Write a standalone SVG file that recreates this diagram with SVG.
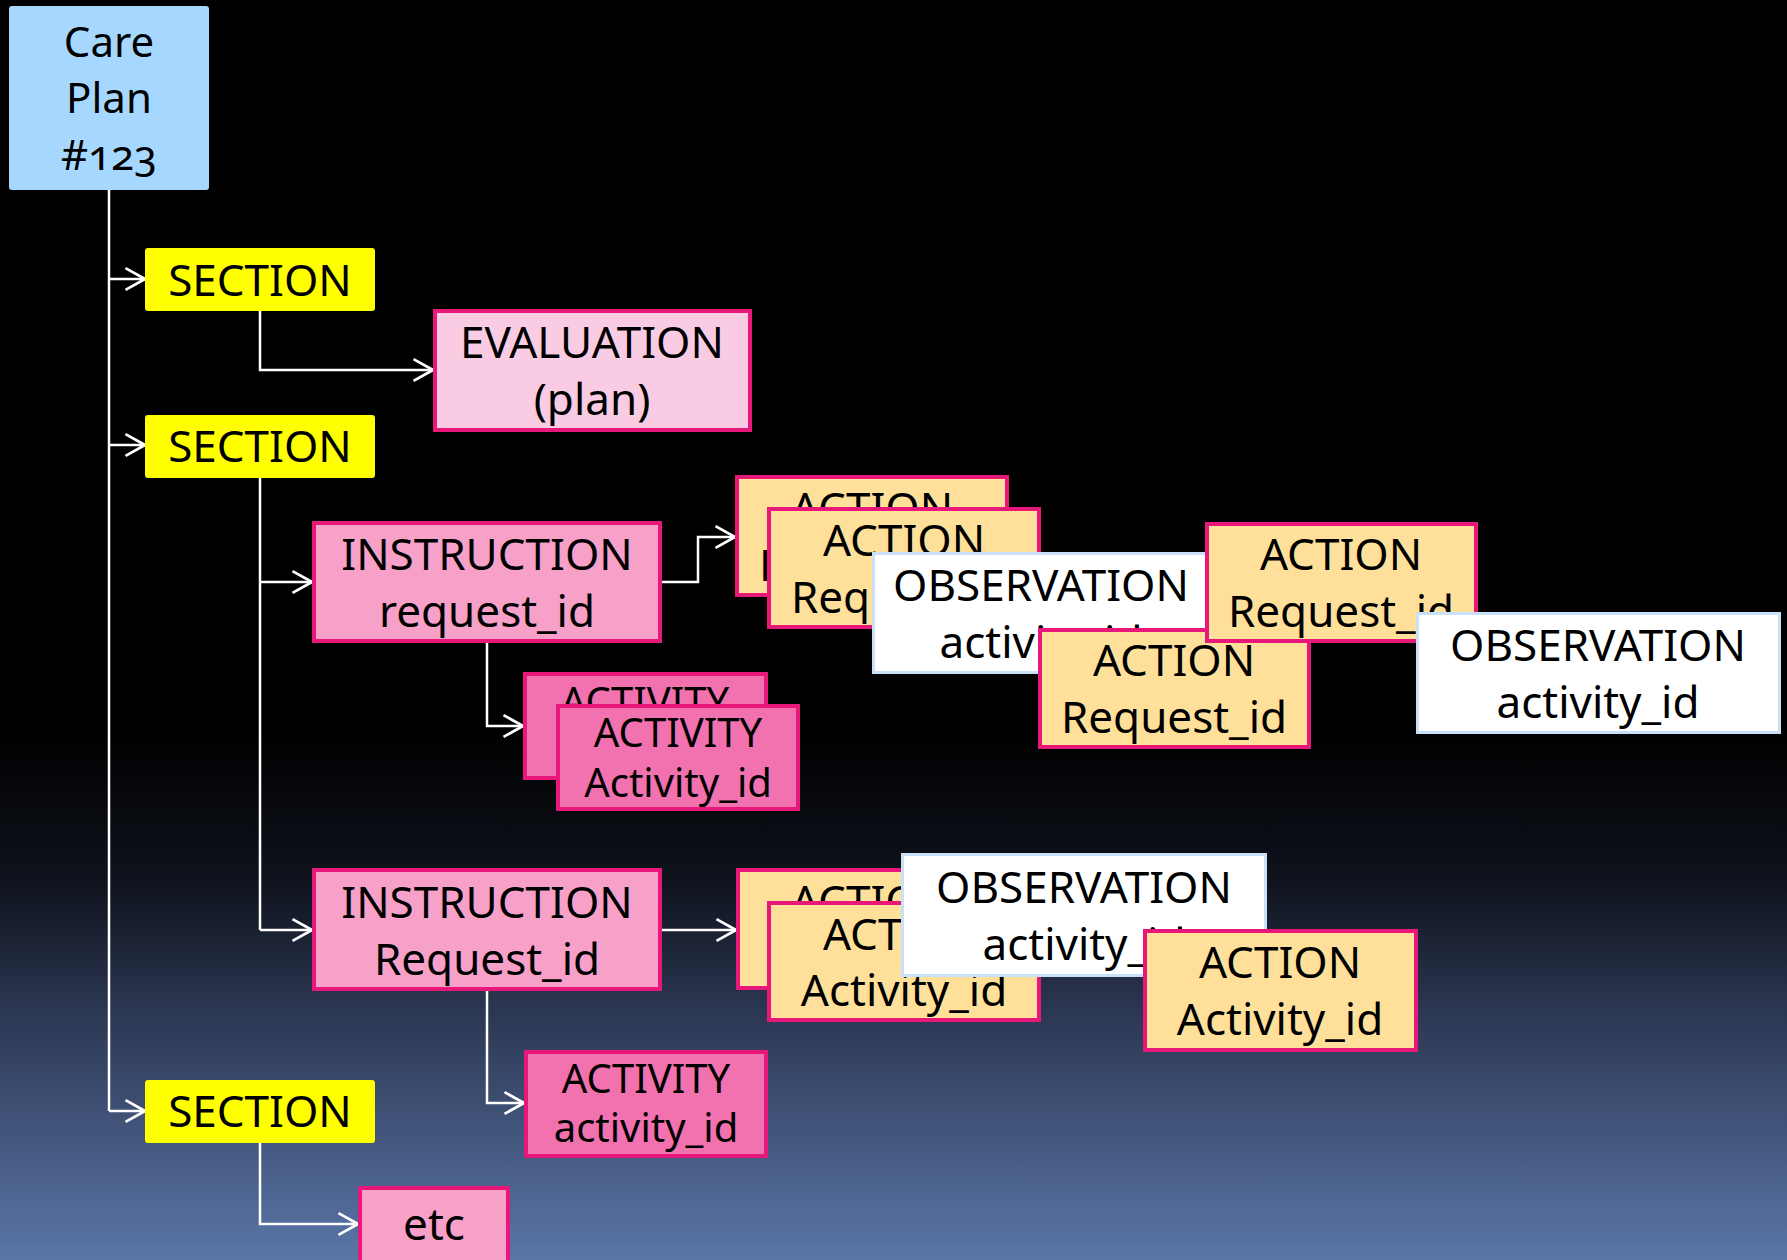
<svg xmlns="http://www.w3.org/2000/svg" width="1787" height="1260" viewBox="0 0 1787 1260">
  <defs>
    <linearGradient id="bg" x1="0" y1="0" x2="0" y2="1">
      <stop offset="0" stop-color="#000000"/>
      <stop offset="0.58" stop-color="#000000"/>
      <stop offset="0.7" stop-color="#0f131d"/>
      <stop offset="0.8" stop-color="#2b3651"/>
      <stop offset="1" stop-color="#5a76a8"/>
    </linearGradient>
    <marker id="arrow" markerUnits="userSpaceOnUse" markerWidth="24" markerHeight="26" viewBox="-20 -12 22 24" refX="0" refY="0" orient="auto">
      <path d="M-18,-10 L0,0 L-18,10" fill="none" stroke="#ffffff" stroke-width="2.5"/>
    </marker>
  </defs>
  <style>
    text { font-family: "Noto Sans", "Open Sans", sans-serif; font-size: 44px; fill: #000; text-anchor: middle; }
    .small { font-size: 40px; }
    .tight { letter-spacing: -1.5px; }
    .plan { fill: #a6d8ff; }
    .section { fill: #ffff00; }
    .pink { stroke: #e8177a; stroke-width: 4; }
    .eval { fill: #facce4; }
    .instr { fill: #f7a1c9; }
    .activity { fill: #f271af; }
    .action { fill: #ffe09a; }
    .obs { fill: #ffffff; stroke: #c8e0f8; stroke-width: 3; }
    .conn { fill: none; stroke: #ffffff; stroke-width: 2.5; }
  </style>

  <rect width="1787" height="1260" fill="url(#bg)"/>

  <!-- connectors -->
  <g id="connectors" class="conn">
    <path d="M109,190 V1111"/>
    <path d="M109,279 H145" marker-end="url(#arrow)"/>
    <path d="M109,445 H145" marker-end="url(#arrow)"/>
    <path d="M109,1111 H145" marker-end="url(#arrow)"/>
    <path d="M260,311 V370 H433" marker-end="url(#arrow)"/>
    <path d="M260,478 V930"/>
    <path d="M260,582 H312" marker-end="url(#arrow)"/>
    <path d="M260,930 H312" marker-end="url(#arrow)"/>
    <path d="M662,582 H698 V537 H735" marker-end="url(#arrow)"/>
    <path d="M487,643 V726 H523" marker-end="url(#arrow)"/>
    <path d="M662,930 H736" marker-end="url(#arrow)"/>
    <path d="M487,991 V1103 H524" marker-end="url(#arrow)"/>
    <path d="M260,1143 V1224 H358" marker-end="url(#arrow)"/>
  </g>

  <g id="care-plan">
    <rect class="plan" x="9" y="6" width="200" height="184" rx="3"/>
    <text x="109" y="57" style="font-size:42px">Care</text>
    <text x="109" y="113" style="font-size:42px">Plan</text>
    <text x="109" y="170" style="font-size:42px;font-variant-numeric:oldstyle-nums">#123</text>
  </g>

  <g id="section-1">
    <rect class="section" x="145" y="248" width="230" height="63" rx="3"/>
    <text x="260" y="296">SECTION</text>
  </g>
  <g id="section-2">
    <rect class="section" x="145" y="415" width="230" height="63" rx="3"/>
    <text x="260" y="462">SECTION</text>
  </g>
  <g id="section-3">
    <rect class="section" x="145" y="1080" width="230" height="63" rx="3"/>
    <text x="260" y="1127">SECTION</text>
  </g>

  <g id="evaluation">
    <rect class="eval pink" x="435" y="311" width="315" height="119"/>
    <text x="592" y="358">EVALUATION</text>
    <text x="592" y="415">(plan)</text>
  </g>

  <g id="instruction-1">
    <rect class="instr pink" x="314" y="523" width="346" height="118"/>
    <text x="487" y="570">INSTRUCTION</text>
    <text x="487" y="627">request_id</text>
  </g>
  <g id="instruction-2">
    <rect class="instr pink" x="314" y="870" width="346" height="119"/>
    <text x="487" y="918">INSTRUCTION</text>
    <text x="487" y="975">Request_id</text>
  </g>

  <g id="activity-1a">
    <rect class="activity pink" x="525" y="674" width="241" height="104"/>
    <text class="small" x="645" y="716">ACTIVITY</text>
    <text class="small tight" x="648" y="766">Activity_id</text>
  </g>
  <g id="activity-1b">
    <rect class="activity pink" x="558" y="706" width="240" height="103"/>
    <text class="small" x="678" y="747">ACTIVITY</text>
    <text class="small" x="678" y="797">Activity_id</text>
  </g>
  <g id="activity-2">
    <rect class="activity pink" x="526" y="1052" width="240" height="104"/>
    <text class="small" x="646" y="1093">ACTIVITY</text>
    <text class="small" x="646" y="1142">activity_id</text>
  </g>

  <g id="etc">
    <rect class="instr pink" x="360" y="1188" width="148" height="80"/>
    <text x="434" y="1240">etc</text>
  </g>

  <!-- first action/observation cluster -->
  <g id="action-1a">
    <rect class="action pink" x="737" y="477" width="270" height="118"/>
    <text x="872" y="524">ACTION</text>
    <text x="872" y="581">Request_id</text>
  </g>
  <g id="action-1b">
    <rect class="action pink" x="769" y="509" width="270" height="118"/>
    <text x="904" y="556">ACTION</text>
    <text x="904" y="613">Request_id</text>
  </g>
  <g id="observation-1">
    <rect class="obs" x="873.5" y="553.5" width="336" height="119"/>
    <text x="1041" y="601">OBSERVATION</text>
    <text x="1041" y="658">activity_id</text>
  </g>
  <g id="action-1c">
    <rect class="action pink" x="1040" y="630" width="269" height="117"/>
    <text x="1174" y="676">ACTION</text>
    <text x="1174" y="733">Request_id</text>
  </g>
  <g id="action-1d">
    <rect class="action pink" x="1207" y="524" width="269" height="117"/>
    <text x="1341" y="570">ACTION</text>
    <text x="1341" y="627">Request_id</text>
  </g>
  <g id="observation-2">
    <rect class="obs" x="1417.5" y="613.5" width="362" height="119"/>
    <text x="1598" y="661">OBSERVATION</text>
    <text x="1598" y="718">activity_id</text>
  </g>

  <!-- second action/observation cluster -->
  <g id="action-2a">
    <rect class="action pink" x="738" y="870" width="269" height="118"/>
    <text x="872" y="917">ACTION</text>
    <text x="872" y="974">Activity_id</text>
  </g>
  <g id="action-2b">
    <rect class="action pink" x="769" y="903" width="270" height="117"/>
    <text x="904" y="950">ACTION</text>
    <text x="904" y="1006">Activity_id</text>
  </g>
  <g id="observation-3">
    <rect class="obs" x="902.5" y="854.5" width="363" height="121"/>
    <text x="1084" y="903">OBSERVATION</text>
    <text x="1084" y="960">activity_id</text>
  </g>
  <g id="action-2c">
    <rect class="action pink" x="1145" y="931" width="271" height="119"/>
    <text x="1280" y="978">ACTION</text>
    <text x="1280" y="1035">Activity_id</text>
  </g>
</svg>
